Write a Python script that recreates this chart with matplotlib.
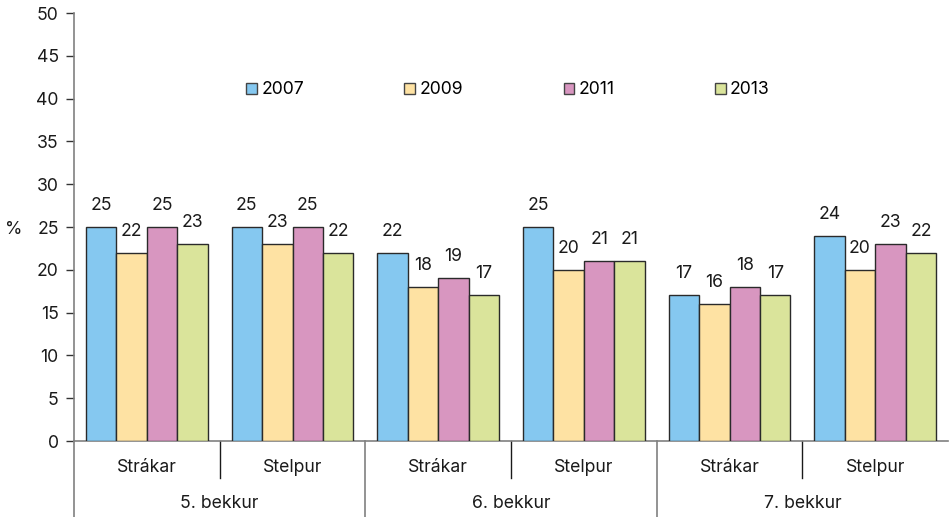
import matplotlib
matplotlib.use("Agg")
import matplotlib.pyplot as plt
import numpy as np

plt.rcParams['font.family'] = ['Inter', 'DejaVu Sans']

years = ["2007", "2009", "2011", "2013"]
subcats = ["Strákar", "Stelpur", "Strákar", "Stelpur", "Strákar", "Stelpur"]
groups = ["5. bekkur", "6. bekkur", "7. bekkur"]
v2007 = [25, 25, 22, 25, 17, 24]
v2009 = [22, 23, 18, 20, 16, 20]
v2011 = [25, 25, 19, 21, 18, 23]
v2013 = [23, 22, 17, 21, 17, 22]
series = [v2007, v2009, v2011, v2013]
colors = ["#85C8F0", "#FEE2A3", "#D896C0", "#DAE49B"]
yticks = [0, 5, 10, 15, 20, 25, 30, 35, 40, 45, 50]

FS = 12.7
W, H = 949, 517
fig = plt.figure(figsize=(W / 100, H / 100), dpi=100)
ax = fig.add_axes([74 / W, 1 - 441 / H, (949 - 74) / W - 0.001, (441 - 13) / H])

x = np.arange(len(subcats))
bw = 0.209
for i, (vals, col, yr) in enumerate(zip(series, colors, years)):
    pos = x + (i - 1.5) * bw
    ax.bar(pos, vals, width=bw, color=col, edgecolor="#2a2a2a", linewidth=1.0, label=yr, zorder=3)
    for px, v in zip(pos, vals):
        ax.annotate(str(v), (px, v), xytext=(0, 15.5), textcoords="offset points",
                    ha="center", va="center", fontsize=FS, color="#1a1a1a")

ax.set_xlim(-0.5, len(subcats) - 0.5)
ax.set_ylim(0, 50)
ax.set_yticks(yticks)
ax.tick_params(axis="y", length=6, width=1, color="#333333", labelsize=FS, labelcolor="#1a1a1a", pad=5)
ax.set_xticks([])
for s in ["top", "right"]:
    ax.spines[s].set_visible(False)
ax.spines["left"].set_color("#808080")
ax.spines["left"].set_linewidth(1.2)
ax.spines["bottom"].set_color("#808080")
ax.spines["bottom"].set_linewidth(1.2)

trans = ax.get_xaxis_transform()
ax.plot([-0.5, -0.5], [0, -0.178], transform=trans, color="#808080", lw=1.2, clip_on=False)
for sx in [0.5, 2.5, 4.5]:
    ax.plot([sx, sx], [0, -0.086], transform=trans, color="#1a1a1a", lw=1.0, clip_on=False)
for gx in [1.5, 3.5]:
    ax.plot([gx, gx], [0, -0.178], transform=trans, color="#808080", lw=1.2, clip_on=False)

for xi, lab in zip(x, subcats):
    ax.text(xi, -0.061, lab, transform=trans, ha="center", va="center", fontsize=FS, color="#1a1a1a")
for gi, g in enumerate(groups):
    ax.text(gi * 2 + 0.5, -0.145, g, transform=trans, ha="center", va="center", fontsize=FS, color="#1a1a1a")

fig.text(14 / W, 1 - 229 / H, "%", ha="center", va="center", fontsize=FS, color="#1a1a1a")

leg = ax.legend(loc="center", bbox_to_anchor=(508 / W, 1 - 90 / H), bbox_transform=fig.transFigure,
                ncol=4, frameon=False, fontsize=FS, handlelength=0.6, handleheight=0.6,
                handletextpad=0.25, columnspacing=5.7, borderaxespad=0)
for h in leg.legend_handles:
    h.set_edgecolor("#444444")
    h.set_linewidth(1.0)

fig.savefig("out.png", dpi=100)
